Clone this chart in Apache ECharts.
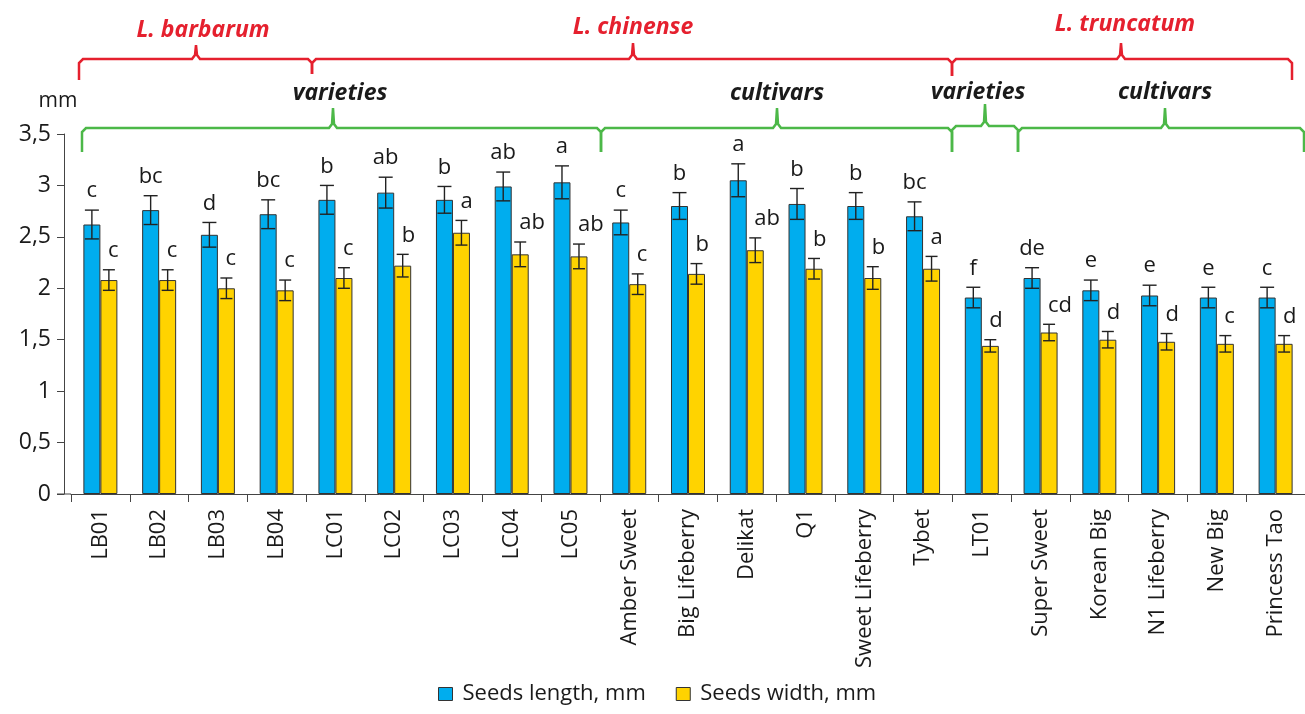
<!DOCTYPE html>
<html>
<head>
<meta charset="utf-8">
<script src="https://cdn.jsdelivr.net/npm/echarts@6/dist/echarts.min.js"></script>
<style>
  html, body { margin: 0; padding: 0; background: #fff; }
  #chart { width: 1305px; height: 714px; }
</style>
</head>
<body>
<div id="chart"></div>
<script>
  // categories on the x axis
  var categories = ['LB01', 'LB02', 'LB03', 'LB04', 'LC01', 'LC02', 'LC03', 'LC04', 'LC05',
    'Amber Sweet', 'Big Lifeberry', 'Delikat', 'Q1', 'Sweet Lifeberry', 'Tybet',
    'LT01', 'Super Sweet', 'Korean Big', 'N1 Lifeberry', 'New Big', 'Princess Tao'];
  // seeds length, mm
  var lengthVals = [2.62, 2.76, 2.52, 2.72, 2.86, 2.93, 2.86, 2.99, 3.03, 2.64, 2.80, 3.05, 2.82, 2.80, 2.70, 1.91, 2.10, 1.98, 1.93, 1.91, 1.91];
  var lengthErr = [0.14, 0.14, 0.12, 0.14, 0.14, 0.15, 0.13, 0.14, 0.16, 0.12, 0.13, 0.16, 0.15, 0.13, 0.14, 0.10, 0.10, 0.10, 0.10, 0.10, 0.10];
  var lengthLetters = ['c', 'bc', 'd', 'bc', 'b', 'ab', 'b', 'ab', 'a', 'c', 'b', 'a', 'b', 'b', 'bc', 'f', 'de', 'e', 'e', 'e', 'c'];
  // seeds width, mm
  var widthVals = [2.08, 2.08, 2.00, 1.98, 2.10, 2.22, 2.54, 2.33, 2.31, 2.04, 2.14, 2.37, 2.19, 2.10, 2.19, 1.44, 1.57, 1.50, 1.48, 1.46, 1.46];
  var widthErr = [0.10, 0.10, 0.10, 0.10, 0.10, 0.11, 0.12, 0.12, 0.12, 0.10, 0.10, 0.12, 0.10, 0.11, 0.12, 0.06, 0.08, 0.08, 0.08, 0.08, 0.08];
  var widthLetters = ['c', 'c', 'c', 'c', 'c', 'b', 'a', 'ab', 'ab', 'c', 'b', 'ab', 'b', 'b', 'a', 'd', 'cd', 'd', 'd', 'c', 'd'];
  // y axis ticks
  var yMin = 0, yMax = 3.5, yStep = 0.5;

  var FONT = '"Open Sans", "Noto Sans", sans-serif';
  var TXT = '#1a1a1a';
  var BAR_W = 17;
  var RED = '#e5202e';
  var GREEN = '#4cb848';

  function errData(vals, errs) {
    return vals.map(function (v, i) { return [i, v, errs[i]]; });
  }

  // error bar + letter for one bar series; side -1 = left bar, 1 = right bar
  function errRender(side, letters, capW, labelAlign) {
    return function (params, api) {
      var i = api.value(0), v = api.value(1), e = api.value(2);
      var top = api.coord([i, v + e]);
      var bot = api.coord([i, v - e]);
      var x = top[0] + side * BAR_W / 2;
      var st = { stroke: '#222', lineWidth: 1.4 };
      return {
        type: 'group',
        children: [
          { type: 'line', shape: { x1: x, y1: top[1], x2: x, y2: bot[1] }, style: st },
          { type: 'line', shape: { x1: x - capW / 2, y1: top[1], x2: x + capW / 2, y2: top[1] }, style: st },
          { type: 'line', shape: { x1: x - capW / 2, y1: bot[1], x2: x + capW / 2, y2: bot[1] }, style: st },
          {
            type: 'text',
            style: {
              text: letters[params.dataIndex],
              x: labelAlign === 'left' ? x - 1 : x,
              y: top[1] - 8,
              align: labelAlign,
              verticalAlign: 'bottom',
              fill: TXT,
              fontSize: 22,
              fontFamily: FONT
            }
          }
        ]
      };
    };
  }

  // curly brace as a polyline: ends go down, middle spikes up
  function brace(x1, x2, xm, y, yEndL, yEndR, yPeak, color) {
    return {
      type: 'polyline',
      shape: {
        points: [
          [x1, yEndL], [x1, y + 4], [x1 + 4, y], [xm - 4, y], [xm - 1, y - 4], [xm, yPeak],
          [xm + 1, y - 4], [xm + 4, y], [x2 - 4, y], [x2, y + 4], [x2, yEndR]
        ]
      },
      style: { stroke: color, lineWidth: 2.5, fill: null }
    };
  }

  function label(text, x, y, color, size) {
    return {
      type: 'text',
      style: {
        text: text, x: x, y: y, align: 'center', verticalAlign: 'middle',
        fill: color, font: 'italic bold ' + size + 'px ' + FONT
      }
    };
  }

  var chart = echarts.init(document.getElementById('chart'));

  chart.setOption({
    animation: false,
    grid: { left: 71, top: 134, width: 1238, height: 360, containLabel: false },
    legend: {
      left: 433,
      top: 678,
      icon: 'rect',
      itemWidth: 14,
      itemHeight: 13,
      itemGap: 30,
      itemStyle: { borderColor: '#333', borderWidth: 1 },
      textStyle: { fontSize: 22, fontFamily: FONT, color: TXT, padding: [0, 0, 0, 5] },
      data: ['Seeds length, mm', 'Seeds width, mm']
    },
    xAxis: {
      type: 'category',
      data: categories,
      axisLine: { lineStyle: { color: '#444', width: 1 } },
      axisTick: { show: true, length: 8, interval: 0, lineStyle: { color: '#444' } },
      axisLabel: {
        interval: 0, rotate: 90, margin: 15,
        fontSize: 22, fontFamily: FONT, color: TXT
      }
    },
    yAxis: {
      type: 'value',
      min: yMin,
      max: yMax,
      interval: yStep,
      offset: 7,
      name: 'mm',
      nameLocation: 'end',
      nameGap: 22,
      nameTextStyle: { fontSize: 21, fontFamily: FONT, color: TXT, align: 'center', padding: [0, 0, 0, -12] },
      splitLine: { show: false },
      axisLine: { show: true, lineStyle: { color: '#444', width: 1 } },
      axisTick: { show: true, length: 7, lineStyle: { color: '#444' } },
      axisLabel: {
        margin: 13, fontSize: 23, fontFamily: FONT, color: TXT,
        formatter: function (v) { return String(v).replace('.', ','); }
      }
    },
    series: [
      {
        name: 'Seeds length, mm',
        type: 'bar',
        data: lengthVals,
        barWidth: BAR_W,
        barGap: '0%',
        itemStyle: { color: '#00adee', borderColor: '#333', borderWidth: 1 }
      },
      {
        name: 'Seeds width, mm',
        type: 'bar',
        data: widthVals,
        barWidth: BAR_W,
        barGap: '0%',
        itemStyle: { color: '#ffd300', borderColor: '#333', borderWidth: 1 }
      },
      {
        type: 'custom',
        data: errData(lengthVals, lengthErr),
        renderItem: errRender(-1, lengthLetters, 14, 'center'),
        z: 5
      },
      {
        type: 'custom',
        data: errData(widthVals, widthErr),
        renderItem: errRender(1, widthLetters, 12, 'left'),
        z: 5
      }
    ],
    graphic: [
      { type: 'line', shape: { x1: 57, y1: 494, x2: 71, y2: 494 }, style: { stroke: '#444', lineWidth: 1 } },
      // species braces
      brace(79, 312, 196, 59, 80, 74, 45, RED),
      brace(312, 952, 633, 59, 74, 76, 43, RED),
      brace(952, 1292, 1121, 59, 76, 80, 43, RED),
      label('L. barbarum', 203, 30, RED, 23),
      label('L. chinense', 633, 27, RED, 23),
      label('L. truncatum', 1125, 24, RED, 23),
      // varieties / cultivars braces
      brace(82, 601, 333, 128, 152, 152, 108, GREEN),
      brace(601, 952, 777, 128, 152, 152, 108, GREEN),
      brace(952, 1018, 985, 126, 152, 152, 104, GREEN),
      brace(1018, 1304, 1165, 128, 152, 152, 108, GREEN),
      label('varieties', 340, 93, TXT, 23),
      label('cultivars', 777, 93, TXT, 23),
      label('varieties', 978, 92, TXT, 23),
      label('cultivars', 1165, 92, TXT, 23)
    ]
  });
</script>
</body>
</html>
